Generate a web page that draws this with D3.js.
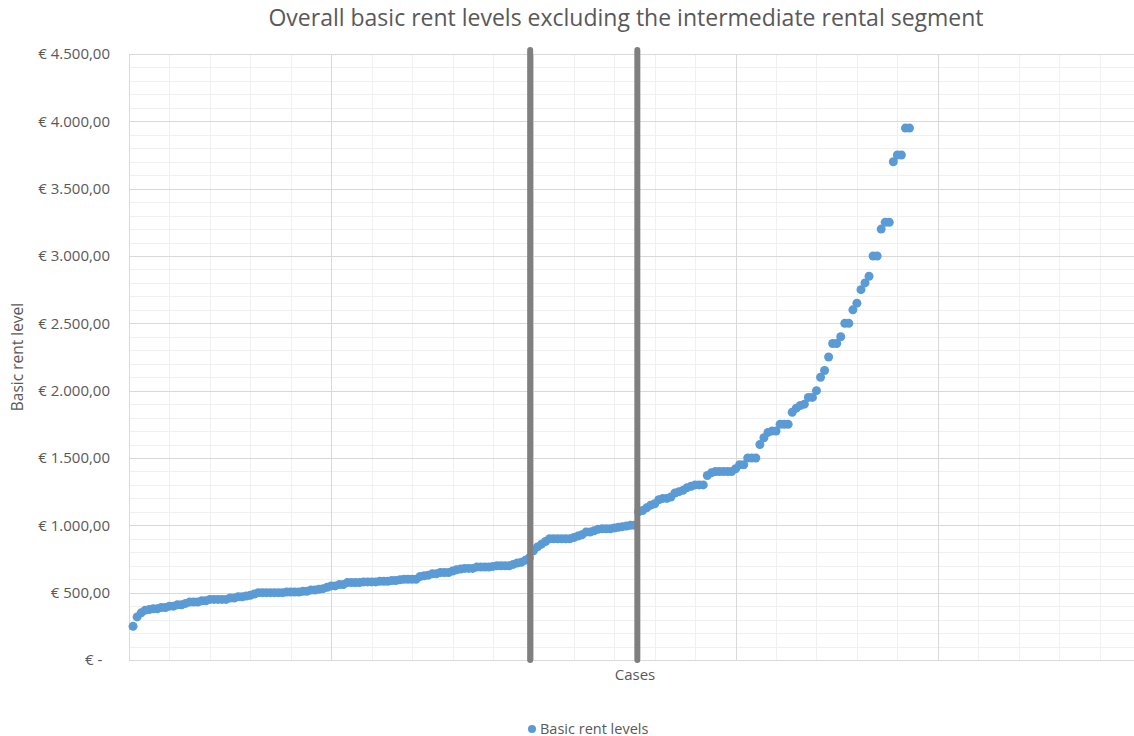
<!DOCTYPE html>
<html>
<head>
<meta charset="utf-8">
<script src="https://cdn.jsdelivr.net/npm/d3@7"></script>
<style>
  html, body { margin: 0; padding: 0; background: #ffffff; }
  svg { display: block; font-family: "Open Sans", "Noto Sans", sans-serif; }
</style>
</head>
<body>
<svg id="chart" width="1134" height="736"></svg>
<script>
// Basic rent level per case, sorted ascending (case 1 .. n)
const rentLevels = [
  250, 320, 350, 370, 375, 380, 380, 390, 390, 400,
  400, 410, 410, 420, 430, 430, 430, 440, 440, 450,
  450, 450, 450, 450, 460, 460, 470, 470, 475, 480,
  490, 500, 500, 500, 500, 500, 500, 500, 505, 505,
  505, 505, 510, 510, 520, 520, 525, 530, 540, 550,
  550, 560, 560, 575, 575, 575, 575, 580, 580, 580,
  580, 585, 585, 585, 590, 590, 595, 600, 600, 600,
  600, 620, 625, 630, 640, 640, 650, 650, 650, 660,
  670, 675, 680, 680, 680, 690, 690, 690, 690, 695,
  700, 700, 700, 700, 710, 720, 725, 740, 760, 810,
  840, 860, 880, 900, 900, 900, 900, 900, 900, 910,
  920, 930, 950, 950, 960, 970, 975, 975, 975, 980,
  985, 990, 995, 1000, 1000, 1100, 1110, 1130, 1150, 1160,
  1190, 1200, 1200, 1210, 1240, 1250, 1260, 1280, 1290, 1300,
  1300, 1300, 1370, 1390, 1400, 1400, 1400, 1400, 1400, 1420,
  1450, 1450, 1500, 1500, 1500, 1600, 1650, 1690, 1700, 1700,
  1750, 1750, 1750, 1840, 1870, 1890, 1900, 1950, 1950, 2000,
  2100, 2150, 2250, 2350, 2350, 2400, 2500, 2500, 2600, 2650,
  2750, 2800, 2850, 3000, 3000, 3200, 3250, 3250, 3700, 3750,
  3750, 3950, 3950
];

// Segment boundaries (case positions) drawn as vertical separators
const segmentBoundaries = [99.2, 125.7];
const boundaryExtent = [0, 4530];

// Axis settings
const caseDomain = [0, 250];
const caseMajorTicks = [0, 50, 100, 150, 200, 250];
const rentDomain = [0, 4500];
const rentMajorTicks = [0, 500, 1000, 1500, 2000, 2500, 3000, 3500, 4000, 4500];

const chartTitle = "Overall basic rent levels excluding the intermediate rental segment";
const xTitle = "Cases";
const yTitle = "Basic rent level";
const seriesName = "Basic rent levels";

const svg = d3.select("#chart");
const plot = { left: 129, top: 54, right: 1140, bottom: 660 };

const x = d3.scaleLinear().domain(caseDomain).range([plot.left, plot.right]);
const y = d3.scaleLinear().domain(rentDomain).range([plot.bottom, plot.top]);

const caseMinorTicks = d3.range(caseDomain[0], caseDomain[1] + 1, 10);
const rentMinorTicks = d3.range(rentDomain[0], rentDomain[1] + 1, 100);

const euro = d3.formatLocale({
  decimal: ",", thousands: ".", grouping: [3], currency: ["€ ", ""]
}).format("$,.2f");
const rentLabel = v => v === 0 ? "€ -\u00a0\u00a0" : euro(v);

// Minor gridlines
const grid = svg.append("g");
grid.append("g").selectAll("line").data(rentMinorTicks).join("line")
  .attr("x1", plot.left).attr("x2", plot.right)
  .attr("y1", d => Math.round(y(d)) + 0.5).attr("y2", d => Math.round(y(d)) + 0.5)
  .attr("stroke", "#f0f0f0").attr("stroke-width", 1);
grid.append("g").selectAll("line").data(caseMinorTicks).join("line")
  .attr("y1", plot.top).attr("y2", plot.bottom)
  .attr("x1", d => Math.round(x(d)) + 0.5).attr("x2", d => Math.round(x(d)) + 0.5)
  .attr("stroke", "#f0f0f0").attr("stroke-width", 1);

// Major gridlines
grid.append("g").selectAll("line").data(rentMajorTicks).join("line")
  .attr("x1", plot.left).attr("x2", plot.right)
  .attr("y1", d => Math.round(y(d)) + 0.5).attr("y2", d => Math.round(y(d)) + 0.5)
  .attr("stroke", "#d9d9d9").attr("stroke-width", 1);
grid.append("g").selectAll("line").data(caseMajorTicks).join("line")
  .attr("y1", plot.top).attr("y2", plot.bottom)
  .attr("x1", d => Math.round(x(d)) + 0.5).attr("x2", d => Math.round(x(d)) + 0.5)
  .attr("stroke", "#d9d9d9").attr("stroke-width", 1);

// Y axis labels
const yAxis = d3.axisLeft(y).tickValues(rentMajorTicks).tickFormat(rentLabel)
  .tickSize(0).tickPadding(19);
const yAxisG = svg.append("g").attr("transform", `translate(${plot.left},0)`).call(yAxis);
yAxisG.select(".domain").remove();
yAxisG.selectAll("text").attr("fill", "#595959").attr("font-size", 15)
  .style("font-family", "'Open Sans', sans-serif");

// Data points
svg.append("g").selectAll("circle").data(rentLevels).join("circle")
  .attr("cx", (d, i) => x(i + 1))
  .attr("cy", d => y(d))
  .attr("r", 4.5)
  .attr("fill", "#5b9bd5");

// Segment separator lines
svg.append("g").selectAll("line").data(segmentBoundaries).join("line")
  .attr("x1", d => x(d)).attr("x2", d => x(d))
  .attr("y1", y(boundaryExtent[0])).attr("y2", y(boundaryExtent[1]))
  .attr("stroke", "#7f7f7f").attr("stroke-width", 6)
  .attr("stroke-linecap", "round");

// Titles
svg.append("text").attr("x", 626).attr("y", 26).attr("text-anchor", "middle")
  .attr("fill", "#595959").attr("font-size", 23).text(chartTitle);
svg.append("text").attr("x", 635).attr("y", 680).attr("text-anchor", "middle")
  .attr("fill", "#595959").attr("font-size", 15).text(xTitle);
svg.append("text").attr("transform", "translate(23,357) rotate(-90)")
  .attr("text-anchor", "middle").attr("fill", "#595959").attr("font-size", 15.5).text(yTitle);

// Legend
const legend = svg.append("g").attr("transform", "translate(532,729)");
legend.append("circle").attr("r", 4).attr("fill", "#5b9bd5");
legend.append("text").attr("x", 8).attr("y", 4.5).attr("fill", "#595959")
  .attr("font-size", 14.5).text(seriesName);
</script>
</body>
</html>
